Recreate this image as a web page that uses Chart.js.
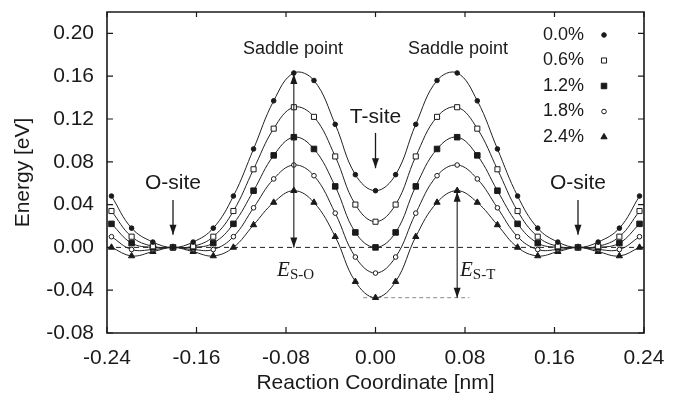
<!DOCTYPE html>
<html>
<head>
<meta charset="utf-8">
<script src="https://cdn.jsdelivr.net/npm/chart.js@4/dist/chart.umd.min.js"></script>
<style>
  html, body { margin: 0; padding: 0; background: #fff; }
  #wrap { width: 699px; height: 403px; }
</style>
</head>
<body>
<div id="wrap"><canvas id="energyChart" width="699" height="403"></canvas></div>
<script>
// Reaction coordinate of each image [nm]
const coord = [-0.236, -0.218, -0.199, -0.181, -0.163, -0.145, -0.127, -0.109, -0.091, -0.073, -0.055, -0.036, -0.018, 0,
  0.018, 0.036, 0.055, 0.073, 0.091, 0.109, 0.127, 0.145, 0.163, 0.181, 0.199, 0.218, 0.236];

const strainLabels = ["0.0%", "0.6%", "1.2%", "1.8%", "2.4%"];

// Energy [eV] for each strain
const energy00 = [0.048, 0.018, 0.005, 0, 0.005, 0.018, 0.048, 0.092, 0.137, 0.163, 0.156, 0.115, 0.068, 0.053,
  0.068, 0.115, 0.156, 0.163, 0.137, 0.092, 0.048, 0.018, 0.005, 0, 0.005, 0.018, 0.048];
const energy06 = [0.034, 0.010, 0.001, 0, 0.001, 0.010, 0.034, 0.073, 0.111, 0.131, 0.122, 0.085, 0.040, 0.024,
  0.040, 0.085, 0.122, 0.131, 0.111, 0.073, 0.034, 0.010, 0.001, 0, 0.001, 0.010, 0.034];
const energy12 = [0.022, 0.004, 0.000, 0, 0.000, 0.004, 0.022, 0.053, 0.086, 0.103, 0.092, 0.057, 0.014, 0.000,
  0.014, 0.057, 0.092, 0.103, 0.086, 0.053, 0.022, 0.004, 0.000, 0, 0.000, 0.004, 0.022];
const energy18 = [0.010, -0.002, -0.002, 0, -0.002, -0.002, 0.010, 0.037, 0.064, 0.077, 0.067, 0.032, -0.009, -0.024,
  -0.009, 0.032, 0.067, 0.077, 0.064, 0.037, 0.010, -0.002, -0.002, 0, -0.002, -0.002, 0.010];
const energy24 = [0.000, -0.008, -0.004, 0, -0.004, -0.008, 0.000, 0.021, 0.042, 0.053, 0.042, 0.010, -0.032, -0.047,
  -0.032, 0.010, 0.042, 0.053, 0.042, 0.021, 0.000, -0.008, -0.004, 0, -0.004, -0.008, 0.000];

const xTicks = [-0.24, -0.16, -0.08, 0, 0.08, 0.16, 0.24];
const yTicks = [-0.08, -0.04, 0, 0.04, 0.08, 0.12, 0.16, 0.20];

const ink = "#1a1a1a";
const sansFont = "'Liberation Sans', Arial, sans-serif";
const serifFont = "'Liberation Serif', 'Times New Roman', serif";

const allSeries = [energy00, energy06, energy12, energy18, energy24];
const markerStyle = ["circle", "rect", "rect", "circle", "triangle"];
const markerFill = [ink, "#fff", ink, "#fff", ink];
const markerSize = [2.3, 3.6, 3.9, 2.3, 3.6];

const datasets = allSeries.map((vals, i) => ({
  label: strainLabels[i],
  data: vals.map((v, j) => ({ x: coord[j], y: v })),
  showLine: true,
  tension: 0.4,
  borderColor: "#222",
  borderWidth: 1,
  pointStyle: markerStyle[i],
  pointRadius: markerSize[i],
  pointBackgroundColor: markerFill[i],
  pointBorderColor: ink,
  pointBorderWidth: 1,
}));

function arrowHead(ctx, x, y, dir) {
  // dir: 1 = pointing down, -1 = pointing up
  ctx.beginPath();
  ctx.moveTo(x, y);
  ctx.lineTo(x - 3.5, y - dir * 10);
  ctx.lineTo(x + 3.5, y - dir * 10);
  ctx.closePath();
  ctx.fill();
}

function vArrow(ctx, x, y1, y2, both) {
  ctx.beginPath();
  ctx.moveTo(x, y1);
  ctx.lineTo(x, y2);
  ctx.stroke();
  arrowHead(ctx, x, y2, y2 > y1 ? 1 : -1);
  if (both) arrowHead(ctx, x, y1, y1 > y2 ? 1 : -1);
}

// zero line and the E(S-T) reference line
const guideLines = {
  id: "guideLines",
  beforeDatasetsDraw(chart) {
    const { ctx, scales: { x, y } } = chart;
    ctx.save();
    ctx.lineWidth = 1;
    ctx.strokeStyle = "#222";
    ctx.setLineDash([5, 4]);
    ctx.beginPath();
    ctx.moveTo(x.getPixelForValue(-0.24), y.getPixelForValue(0));
    ctx.lineTo(x.getPixelForValue(0.24), y.getPixelForValue(0));
    ctx.stroke();
    ctx.strokeStyle = "#888";
    ctx.setLineDash([4, 3]);
    ctx.beginPath();
    ctx.moveTo(x.getPixelForValue(-0.011), y.getPixelForValue(-0.047));
    ctx.lineTo(x.getPixelForValue(0.084), y.getPixelForValue(-0.047));
    ctx.stroke();
    ctx.restore();
  },
};

const notes = {
  id: "notes",
  afterDatasetsDraw(chart) {
    const { ctx, scales: { x, y } } = chart;
    ctx.save();
    ctx.fillStyle = ink;
    ctx.strokeStyle = ink;
    ctx.lineWidth = 1.3;
    ctx.textAlign = "center";
    ctx.textBaseline = "middle";

    ctx.font = "18px " + sansFont;
    ctx.fillText("Saddle point", x.getPixelForValue(-0.0738), y.getPixelForValue(0.185));
    ctx.fillText("Saddle point", x.getPixelForValue(0.0738), y.getPixelForValue(0.185));

    ctx.font = "21px " + sansFont;
    ctx.fillText("T-site", x.getPixelForValue(0), y.getPixelForValue(0.1215));
    ctx.fillText("O-site", x.getPixelForValue(-0.181), y.getPixelForValue(0.060));
    ctx.fillText("O-site", x.getPixelForValue(0.181), y.getPixelForValue(0.060));

    vArrow(ctx, x.getPixelForValue(0), y.getPixelForValue(0.107), y.getPixelForValue(0.074));
    vArrow(ctx, x.getPixelForValue(-0.181), y.getPixelForValue(0.0444), y.getPixelForValue(0.0118));
    vArrow(ctx, x.getPixelForValue(0.181), y.getPixelForValue(0.0444), y.getPixelForValue(0.0118));

    ctx.lineWidth = 1.1;
    vArrow(ctx, x.getPixelForValue(-0.073), y.getPixelForValue(0.162), y.getPixelForValue(0), true);
    vArrow(ctx, x.getPixelForValue(0.073), y.getPixelForValue(0.052), y.getPixelForValue(-0.047), true);

    // E_S-O and E_S-T labels
    ctx.textAlign = "left";
    ctx.textBaseline = "alphabetic";
    [[-0.088, "S-O"], [0.0755, "S-T"]].forEach(([xv, sub]) => {
      const px = x.getPixelForValue(xv);
      const py = y.getPixelForValue(-0.027);
      ctx.font = "italic 21px " + serifFont;
      ctx.fillText("E", px, py);
      const w = ctx.measureText("E").width;
      ctx.font = "15px " + serifFont;
      ctx.fillText(sub, px + w, py + 3);
    });
    ctx.restore();
  },
};

const frameAndLegend = {
  id: "frameAndLegend",
  afterDraw(chart) {
    const { ctx, chartArea: a, scales: { x, y } } = chart;
    ctx.save();
    ctx.setLineDash([]);
    ctx.strokeStyle = ink;
    ctx.lineWidth = 1.6;
    ctx.beginPath();
    ctx.rect(a.left, a.top, a.right - a.left, a.bottom - a.top);
    ctx.stroke();
    ctx.lineWidth = 1.2;
    ctx.beginPath();
    xTicks.forEach((t) => {
      const px = x.getPixelForValue(t);
      ctx.moveTo(px, a.bottom); ctx.lineTo(px, a.bottom - 6);
      ctx.moveTo(px, a.top); ctx.lineTo(px, a.top + 5);
    });
    yTicks.forEach((t) => {
      const py = y.getPixelForValue(t);
      ctx.moveTo(a.left, py); ctx.lineTo(a.left + 6, py);
      ctx.moveTo(a.right, py); ctx.lineTo(a.right - 6, py);
    });
    ctx.stroke();

    // legend: label then marker
    ctx.font = "18px " + sansFont;
    ctx.textAlign = "left";
    ctx.textBaseline = "middle";
    chart.data.datasets.forEach((ds, i) => {
      const rowY = a.top + 23 + i * 25.5;
      ctx.fillStyle = ink;
      ctx.fillText(ds.label, a.right - 101, rowY);
      ctx.fillStyle = ds.pointBackgroundColor;
      ctx.strokeStyle = ink;
      ctx.lineWidth = 1;
      Chart.helpers.drawPoint(ctx, {
        pointStyle: ds.pointStyle,
        radius: ds.pointRadius,
        rotation: 0,
        borderWidth: 1,
      }, a.right - 40, rowY);
    });
    ctx.restore();
  },
};

new Chart(document.getElementById("energyChart"), {
  type: "scatter",
  data: { datasets: datasets },
  options: {
    responsive: false,
    animation: false,
    layout: { padding: { left: 0, right: 55, top: 12, bottom: 0 } },
    plugins: {
      legend: { display: false },
      tooltip: { enabled: false },
    },
    scales: {
      x: {
        type: "linear",
        min: -0.24,
        max: 0.24,
        afterBuildTicks: (scale) => { scale.ticks = xTicks.map((v) => ({ value: v })); },
        afterFit: (scale) => {
          scale.height = 70;
          scale.paddingLeft = 0;
          scale.paddingRight = 0;
        },
        grid: { display: false, drawTicks: false },
        border: { display: false },
        ticks: {
          color: ink,
          padding: 13,
          font: { family: sansFont, size: 21 },
          maxRotation: 0,
          callback: (v) => v.toFixed(2),
        },
        title: {
          display: true,
          text: "Reaction Coordinate [nm]",
          color: ink,
          font: { family: sansFont, size: 21 },
          padding: { top: 0, bottom: 7 },
        },
      },
      y: {
        type: "linear",
        min: -0.08,
        max: 0.22,
        afterBuildTicks: (scale) => { scale.ticks = yTicks.map((v) => ({ value: v })); },
        afterFit: (scale) => {
          scale.width = 107;
          scale.paddingTop = 0;
          scale.paddingBottom = 0;
        },
        grid: { display: false, drawTicks: false },
        border: { display: false },
        ticks: {
          color: ink,
          padding: 13,
          font: { family: sansFont, size: 21 },
          callback: (v) => v.toFixed(2),
        },
        title: {
          display: true,
          text: "Energy [eV]",
          color: ink,
          font: { family: sansFont, size: 21 },
          padding: { top: 11, bottom: 0 },
        },
      },
    },
  },
  plugins: [guideLines, notes, frameAndLegend],
});
</script>
</body>
</html>
